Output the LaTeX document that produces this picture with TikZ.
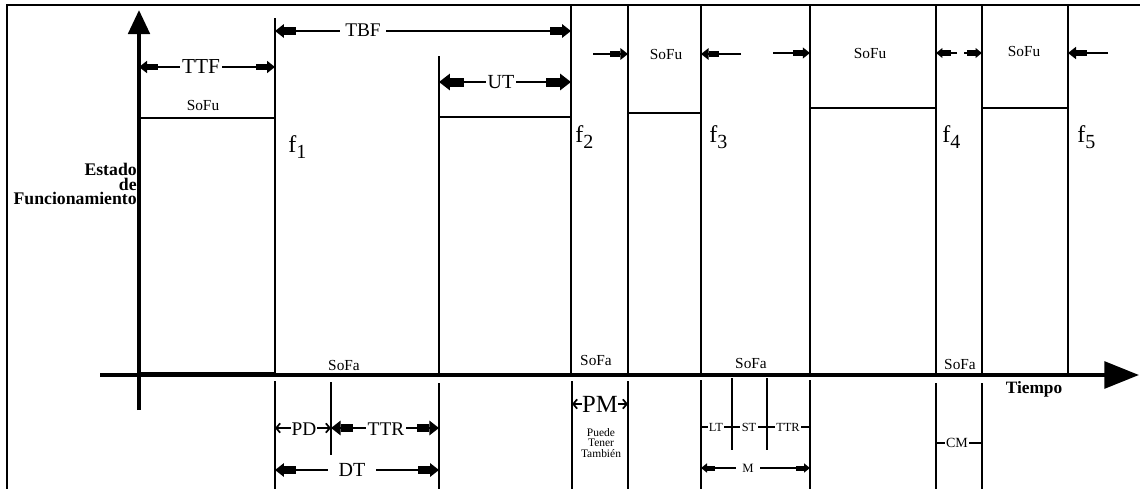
\documentclass[tikz,border=0pt]{standalone}
\usepackage{fontspec}
\setmainfont{Liberation Serif}
\usetikzlibrary{arrows.meta}
\newcommand\myfs[1]{\fontsize{#1}{#1}\selectfont}
\tikzset{
  frameline/.style={line width=2pt},
  axisline/.style={line width=3pt},
  sig/.style={line width=1.7pt},
  dim/.style={line width=1.3pt},
  fat/.style={dim, arrows={{Triangle[length=6pt,width=9pt,scale=#1,sep=0pt] Rectangle[length=8pt,width=5pt,scale=#1,sep=0pt]}-{Rectangle[length=8pt,width=5pt,scale=#1,sep=0pt] Triangle[length=6pt,width=9pt,scale=#1,sep=0pt]}}},
  fatend/.style={dim, arrows={-{Rectangle[length=8pt,width=5pt,scale=#1,sep=0pt] Triangle[length=6pt,width=9pt,scale=#1,sep=0pt]}}},
  barb/.style={dim, arrows={Straight Barb[length=3pt,width=7pt]-Straight Barb[length=3pt,width=7pt]}},
  lbl/.style={fill=white, inner sep=1.5pt},
  txt/.style={inner sep=0pt},
  small/.style={txt, font=\myfs{11.5}},
}
\begin{document}
\begin{tikzpicture}[x=0.75pt,y=-0.75pt]
\useasboundingbox (0,0) rectangle (1140,489);
% frame
\coordinate (fBL) at (7,489); \coordinate (fTL) at (7,5); \coordinate (fTR) at (1140,5);
\draw[frameline] (fBL) -- (fTL) -- (fTR);
% axes
\coordinate (yo) at (139,410); \coordinate (ytip) at (139,10);
\draw[axisline,-{Triangle[length=18pt,width=16pt]}] (yo) -- (ytip);
\coordinate (xo) at (100,375); \coordinate (xtip) at (1139,375);
\draw[axisline,-{Triangle[length=26pt,width=20pt]}] (xo) -- (xtip);
% signal
\draw[sig] (139,373) -- (275,373);
\draw[sig] (139,118) -- (275,118);
\draw[sig] (275,18) -- (275,375);
\draw[sig] (439,56) -- (439,375);
\draw[sig] (439,117) -- (571,117);
\draw[sig] (571,5) -- (571,375);
\draw[sig] (628,5) -- (628,375);
\draw[sig] (628,113) -- (701,113);
\draw[sig] (701,5) -- (701,375);
\draw[sig] (810,5) -- (810,375);
\draw[sig] (810,108) -- (936,108);
\draw[sig] (936,5) -- (936,375);
\draw[sig] (982,5) -- (982,375);
\draw[sig] (982,108) -- (1068,108);
\draw[sig] (1068,5) -- (1068,375);
% lower ticks
\draw[sig] (275,381) -- (275,489);
\draw[sig] (331,382) -- (331,455);
\draw[sig] (439,383) -- (439,489);
\draw[sig] (572,381) -- (572,489);
\draw[sig] (628,381) -- (628,489);
\draw[sig] (701,380) -- (701,489);
\draw[sig] (732,378) -- (732,450);
\draw[sig] (767,378) -- (767,450);
\draw[sig] (810,380) -- (810,489);
\draw[sig] (936,383) -- (936,489);
\draw[sig] (982,383) -- (982,489);
% upper dimensions
\coordinate (ttfL) at (139,67); \coordinate (ttfR) at (275,67);
\draw[fat=1] (ttfL) -- (ttfR);
\node[lbl,font=\myfs{16}] (ttf) at (201,67) {TTF};
\coordinate (tbfL) at (275,31); \coordinate (tbfR) at (571,31);
\draw[fat=1.1] (tbfL) -- (tbfR);
\node[lbl,font=\myfs{14.5},inner xsep=4pt] (tbf) at (363,30) {TBF};
\coordinate (utL) at (439,82); \coordinate (utR) at (571,82);
\draw[fat=1.35] (utL) -- (utR);
\node[lbl,font=\myfs{15}] (ut) at (501,82) {UT};
% pulse arrows
\coordinate (a3a) at (593,54); \coordinate (a3b) at (628,54);
\draw[fatend=0.95] (a3a) -- (a3b);
\coordinate (a3c) at (741,54); \coordinate (a3d) at (701,54);
\draw[fatend=0.95] (a3c) -- (a3d);
\coordinate (a4a) at (773,53); \coordinate (a4b) at (810,53);
\draw[fatend=0.9] (a4a) -- (a4b);
\coordinate (a4c) at (957,53); \coordinate (a4d) at (936,53);
\draw[fatend=0.8] (a4c) -- (a4d);
\coordinate (a5a) at (964,53); \coordinate (a5b) at (982,53);
\draw[fatend=0.8] (a5a) -- (a5b);
\coordinate (a5c) at (1108,53); \coordinate (a5d) at (1068,53);
\draw[fatend=1] (a5c) -- (a5d);
% SoFu labels
\node[small] (sofu1) at (203,105) {SoFu};
\node[small] (sofu3) at (666,54) {SoFu};
\node[small] (sofu4) at (870,53) {SoFu};
\node[small] (sofu5) at (1024,51) {SoFu};
% SoFa labels
\node[small] (sofa1) at (344,365) {SoFa};
\node[small] (sofa2) at (596,360) {SoFa};
\node[small] (sofa3) at (751,363) {SoFa};
\node[small] (sofa4) at (960,364) {SoFa};
% f labels
\node[txt,anchor=base west,font=\myfs{18}] (f1) at (288,152) {f\raisebox{-4.5pt}{\myfs{15}1}};
\node[txt,anchor=base west,font=\myfs{18}] (f2) at (575,142) {f\raisebox{-4.5pt}{\myfs{15}2}};
\node[txt,anchor=base west,font=\myfs{18}] (f3) at (709,142) {f\raisebox{-4.5pt}{\myfs{15}3}};
\node[txt,anchor=base west,font=\myfs{18}] (f4) at (942,142) {f\raisebox{-4.5pt}{\myfs{15}4}};
\node[txt,anchor=base west,font=\myfs{18}] (f5) at (1077,142) {f\raisebox{-4.5pt}{\myfs{15}5}};
% axis titles
\node[txt,anchor=east,align=right,font=\bfseries\fontsize{13.3}{11}\selectfont] (estado) at (137,184) {Estado\hspace{3pt}\\de\hspace{3pt}\\Funcionamiento};
\node[txt,font=\bfseries\myfs{13}] (tiempo) at (1034,389) {Tiempo};
% lower dimensions
\coordinate (pdL) at (275,428); \coordinate (pdR) at (331,428);
\draw[barb] (pdL) -- (pdR);
\node[lbl,font=\myfs{14.5},inner sep=0.5pt] (pd) at (304,429) {PD};
\coordinate (ttrL) at (331,428); \coordinate (ttrR) at (439,428);
\draw[fat=1.2] (ttrL) -- (ttrR);
\node[lbl,font=\myfs{14.5}] (ttr) at (386,429) {TTR};
\coordinate (dtL) at (275,470); \coordinate (dtR) at (439,470);
\draw[fat=1.1] (dtL) -- (dtR);
\node[lbl,font=\myfs{15},inner xsep=8pt] (dt) at (352,470) {DT};
\coordinate (pmL) at (572,404); \coordinate (pmR) at (628,404);
\draw[barb] (pmL) -- (pmR);
\node[lbl,font=\myfs{18.5},inner sep=0.3pt] (pm) at (600,404) {PM};
\node[txt,font=\myfs{8.6},align=center] (puede) at (601,443) {Puede\\[-0.6pt]Tener\\[-0.6pt]También};
\coordinate (ltL) at (701,427); \coordinate (ltR) at (732,427);
\draw[dim] (ltL) -- (ltR);
\node[lbl,font=\myfs{9.3},inner sep=1pt] (lt) at (716,427) {LT};
\coordinate (stL) at (732,427); \coordinate (stR) at (767,427);
\draw[dim] (stL) -- (stR);
\node[lbl,font=\myfs{9.3},inner sep=1pt] (st) at (749,427) {ST};
\coordinate (t2L) at (767,427); \coordinate (t2R) at (810,427);
\draw[dim] (t2L) -- (t2R);
\node[lbl,font=\myfs{9.3},inner sep=1pt] (ttr2) at (788,427) {TTR};
\coordinate (mL) at (701,468); \coordinate (mR) at (810,468);
\draw[fat=0.75] (mL) -- (mR);
\node[lbl,font=\myfs{9.5},inner xsep=5pt] (m) at (748,468) {M};
\coordinate (cmL) at (936,443); \coordinate (cmR) at (982,443);
\draw[dim] (cmL) -- (cmR);
\node[lbl,font=\myfs{10.5},inner sep=1pt] (cm) at (957,443) {CM};
\end{tikzpicture}
\end{document}
